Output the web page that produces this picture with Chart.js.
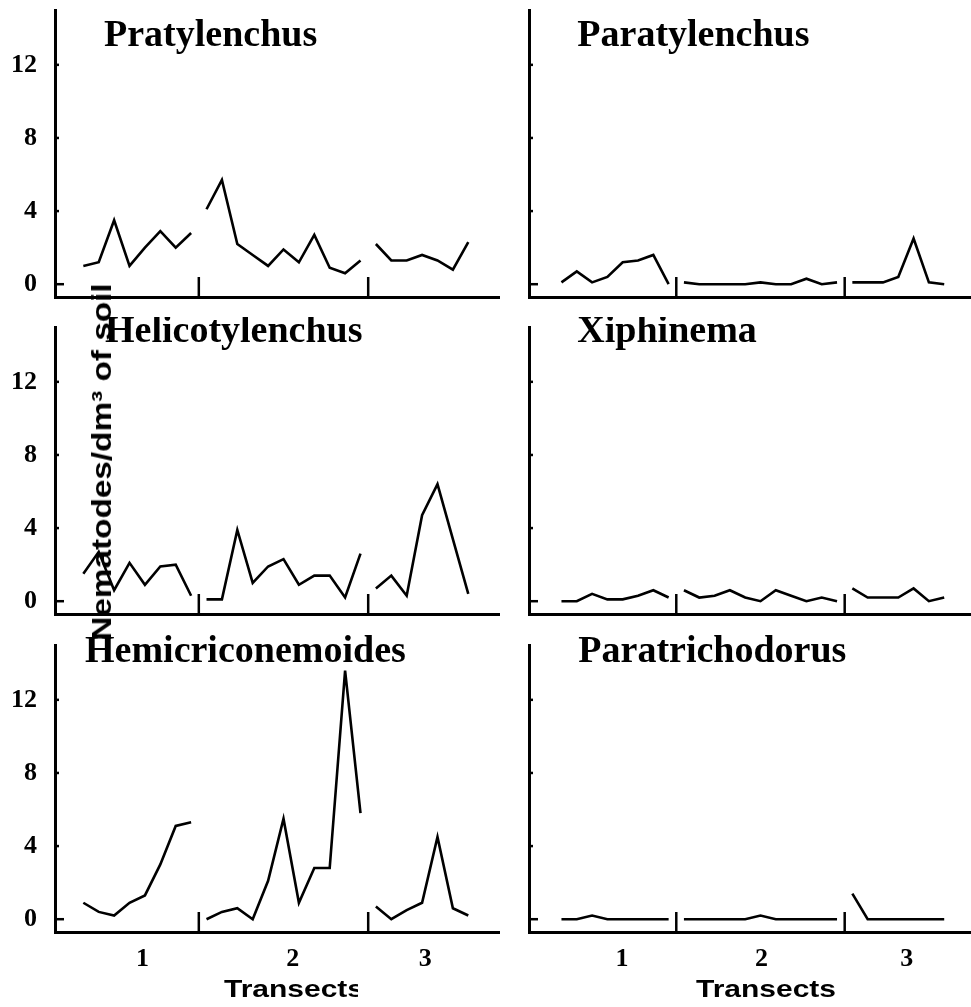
<!DOCTYPE html>
<html>
<head>
<meta charset="utf-8">
<title>Nematodes along transects</title>
<script src="https://cdn.jsdelivr.net/npm/chart.js@4.4.1/dist/chart.umd.min.js"></script>
<style>
  html, body { margin: 0; padding: 0; background: #fff; }
  #page { position: relative; width: 971px; height: 1007px; overflow: hidden; background: #fff; }
  #page canvas { position: absolute; }
  #ylabel {
    position: absolute; left: 102px; top: 462px; z-index: 5;
    transform: translate(-50%, -50%) rotate(-90deg) scaleX(1.19);
    font: bold 28px "Liberation Sans", Arial, sans-serif;
    line-height: 28px; white-space: nowrap; color: #000;
  }
</style>
</head>
<body>
<div id="page">
  <div id="ylabel">Nematodes/dm³ of soil</div>
</div>
<script>
// Counts per sampling point, one array per transect (1, 2, 3)
const transects = ['1', '2', '3'];
const yTicks = [0, 4, 8, 12];

const pratylenchus = [
  [1.0, 1.2, 3.5, 1.0, 2.0, 2.9, 2.0, 2.8],
  [4.1, 5.7, 2.2, 1.6, 1.0, 1.9, 1.2, 2.7, 0.9, 0.6, 1.3],
  [2.2, 1.3, 1.3, 1.6, 1.3, 0.8, 2.3]
];
const paratylenchus = [
  [0.1, 0.7, 0.1, 0.4, 1.2, 1.3, 1.6, 0.0],
  [0.1, 0.0, 0.0, 0.0, 0.0, 0.1, 0.0, 0.0, 0.3, 0.0, 0.1],
  [0.1, 0.1, 0.1, 0.4, 2.5, 0.1, 0.0]
];
const helicotylenchus = [
  [1.5, 2.7, 0.6, 2.1, 0.9, 1.9, 2.0, 0.3],
  [0.1, 0.1, 3.9, 1.0, 1.9, 2.3, 0.9, 1.4, 1.4, 0.2, 2.6],
  [0.7, 1.4, 0.3, 4.7, 6.4, 3.4, 0.4]
];
const xiphinema = [
  [0.0, 0.0, 0.4, 0.1, 0.1, 0.3, 0.6, 0.2],
  [0.6, 0.2, 0.3, 0.6, 0.2, 0.0, 0.6, 0.3, 0.0, 0.2, 0.0],
  [0.7, 0.2, 0.2, 0.2, 0.7, 0.0, 0.2]
];
const hemicriconemoides = [
  [0.9, 0.4, 0.2, 0.9, 1.3, 3.0, 5.1, 5.3],
  [0.0, 0.4, 0.6, 0.0, 2.1, 5.5, 0.9, 2.8, 2.8, 13.6, 5.8],
  [0.7, 0.0, 0.5, 0.9, 4.5, 0.6, 0.2]
];
const paratrichodorus = [
  [0.0, 0.0, 0.2, 0.0, 0.0, 0.0, 0.0, 0.0],
  [0.0, 0.0, 0.0, 0.0, 0.0, 0.2, 0.0, 0.0, 0.0, 0.0, 0.0],
  [1.4, 0.0, 0.0, 0.0, 0.0, 0.0, 0.0]
];

const genera = ['Pratylenchus', 'Paratylenchus', 'Helicotylenchus', 'Xiphinema', 'Hemicriconemoides', 'Paratrichodorus'];
const genusCounts = [pratylenchus, paratylenchus, helicotylenchus, xiphinema, hemicriconemoides, paratrichodorus];

// Page layout (pixels)
const rowTops = [0, 317, 635];
const rowHeights = [317, 317, 372];
const colLefts = [0, 474];
const colWidths = [500, 497];
const xRanges = [[-1.84, 27.06], [-2.12, 26.75]];
const labelPositions = [[3.85, 13.6, 22.2], [3.96, 13.07, 22.55]];
const titleSpots = [[104, 45.7], [103.3, 45.7], [105, 24.7], [103.3, 25.3], [85, 27.3], [104.3, 27.3]];
const captionSpots = [[294, 362, 358], [292, 362, null]];

const serif = '"Liberation Serif", "Times New Roman", Times, serif';
const sans = '"Liberation Sans", Arial, Helvetica, sans-serif';

/**
 * Draws inward y ticks, transect separators, genus name and x caption
 */
const panelDecor = {
  id: 'panelDecor',
  afterDraw(chart, args, opts) {
    const { ctx, chartArea } = chart;
    const x = chart.scales.x;
    const y = chart.scales.y;
    ctx.save();
    ctx.strokeStyle = '#000';
    ctx.lineWidth = 2.5;

    yTicks.forEach(v => {
      const py = y.getPixelForValue(v);
      ctx.beginPath();
      ctx.moveTo(chartArea.left, py);
      ctx.lineTo(chartArea.left + (v === 0 ? 9 : 4), py);
      ctx.stroke();
    });

    opts.separators.forEach(v => {
      const px = x.getPixelForValue(v);
      ctx.beginPath();
      ctx.moveTo(px, chartArea.bottom);
      ctx.lineTo(px, chartArea.bottom - 20);
      ctx.stroke();
    });

    ctx.fillStyle = '#000';
    ctx.textBaseline = 'alphabetic';
    ctx.textAlign = 'left';
    ctx.font = 'bold 38px ' + serif;
    ctx.fillText(opts.title, opts.titleX, opts.titleY);

    if (opts.caption) {
      const [cx, cy, clipX] = opts.caption;
      if (clipX !== null) {
        ctx.beginPath();
        ctx.rect(0, 0, clipX, chart.height);
        ctx.clip();
      }
      ctx.translate(cx, cy);
      ctx.scale(1.25, 1);
      ctx.textAlign = 'center';
      ctx.font = 'bold 24px ' + sans;
      ctx.fillText('Transects', 0, 0);
    }
    ctx.restore();
  }
};

// keep tick labels from pushing the plot area around
const noPadding = s => {
  s.paddingTop = 0;
  s.paddingBottom = 0;
  s.paddingLeft = 0;
  s.paddingRight = 0;
};

const page = document.getElementById('page');

genusCounts.forEach((counts, p) => {
  const row = Math.floor(p / 2);
  const col = p % 2;
  const isBottom = row === 2;
  const isLeft = col === 0;

  const canvas = document.createElement('canvas');
  canvas.width = colWidths[col];
  canvas.height = rowHeights[row];
  canvas.style.left = colLefts[col] + 'px';
  canvas.style.top = rowTops[row] + 'px';
  page.appendChild(canvas);

  // one dataset per transect so the line breaks between them
  let offset = 0;
  const separators = [];
  const datasets = counts.map((values, t) => {
    const start = offset;
    offset += values.length;
    if (t < counts.length - 1) separators.push(offset - 0.5);
    return {
      label: 'Transect ' + transects[t],
      data: values.map((v, j) => ({ x: start + j, y: v })),
      borderColor: '#000',
      borderWidth: 2.6,
      pointRadius: 0,
      fill: false,
      tension: 0
    };
  });

  new Chart(canvas, {
    type: 'line',
    data: { datasets },
    options: {
      responsive: false,
      devicePixelRatio: 1,
      animation: false,
      events: [],
      layout: { padding: { top: 10, left: 0, right: 0, bottom: 0 } },
      plugins: {
        legend: { display: false },
        tooltip: { enabled: false },
        panelDecor: {
          separators,
          title: genera[p],
          titleX: titleSpots[p][0],
          titleY: titleSpots[p][1],
          caption: isBottom ? captionSpots[col] : null
        }
      },
      scales: {
        x: {
          type: 'linear',
          min: xRanges[col][0],
          max: xRanges[col][1],
          grid: { display: false },
          border: { display: true, color: '#000', width: 3 },
          ticks: {
            display: isBottom,
            color: '#000',
            padding: 4,
            autoSkip: false,
            maxRotation: 0,
            font: { family: serif, size: 26, weight: 'bold' },
            callback: (v, i) => transects[i]
          },
          afterBuildTicks: s => { s.ticks = labelPositions[col].map(v => ({ value: v })); },
          afterFit: s => { s.height = rowHeights[row] - 10 - 287; noPadding(s); }
        },
        y: {
          min: -0.7,
          max: 15,
          grid: { display: false },
          border: { display: true, color: '#000', width: 3 },
          ticks: {
            display: isLeft,
            color: '#000',
            padding: 10,
            font: { family: serif, size: 26, weight: 'bold' },
            callback: v => String(v)
          },
          afterBuildTicks: s => { s.ticks = yTicks.map(v => ({ value: v })); },
          afterFit: s => { s.width = 55; noPadding(s); }
        }
      }
    },
    plugins: [panelDecor]
  });
});
</script>
</body>
</html>
